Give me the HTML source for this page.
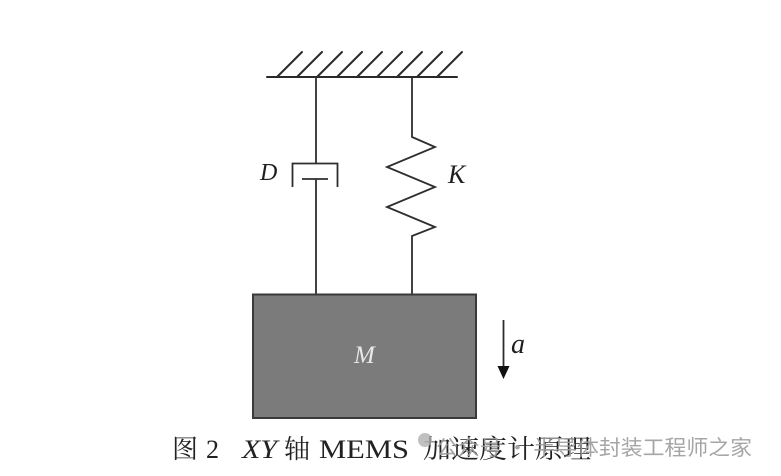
<!DOCTYPE html>
<html>
<head>
<meta charset="utf-8">
<style>
  html, body { margin: 0; padding: 0; background: #fff; }
  body { width: 781px; height: 476px; overflow: hidden; }
  svg { display: block; }
</style>
</head>
<body>
<svg width="781" height="476" viewBox="0 0 781 476" xmlns="http://www.w3.org/2000/svg">
  <rect x="0" y="0" width="781" height="476" fill="#ffffff"/>

  <!-- ground with hatching -->
  <g stroke="#2a2a2a" stroke-width="2" fill="none" stroke-linecap="round">
    <line x1="267" y1="77" x2="457" y2="77"/>
    <line x1="277" y1="77" x2="302" y2="52"/>
    <line x1="297" y1="77" x2="322" y2="52"/>
    <line x1="317" y1="77" x2="342" y2="52"/>
    <line x1="337" y1="77" x2="362" y2="52"/>
    <line x1="357" y1="77" x2="382" y2="52"/>
    <line x1="377" y1="77" x2="402" y2="52"/>
    <line x1="397" y1="77" x2="422" y2="52"/>
    <line x1="417" y1="77" x2="442" y2="52"/>
    <line x1="437" y1="77" x2="462" y2="52"/>
  </g>

  <!-- damper branch -->
  <g stroke="#2e2e2e" stroke-width="1.8" fill="none">
    <line x1="316" y1="77" x2="316" y2="163.5"/>
    <polyline points="292.5,187 292.5,163.5 337.5,163.5 337.5,187"/>
    <line x1="302" y1="179" x2="328" y2="179"/>
    <line x1="316" y1="179" x2="316" y2="294"/>
  </g>

  <!-- spring branch -->
  <g stroke="#2e2e2e" stroke-width="1.8" fill="none" stroke-linejoin="miter">
    <polyline points="412,77 412,137 435,147 387,167 435,187 387,207 435,227 412,236 412,294"/>
  </g>

  <!-- labels D, K -->
  <text x="260" y="180" font-family="Liberation Serif, serif" font-style="italic" font-size="24" fill="#1e1e1e">D</text>
  <text x="448" y="183" font-family="Liberation Serif, serif" font-style="italic" font-size="26" fill="#1e1e1e">K</text>

  <!-- mass -->
  <rect x="253" y="294.5" width="223" height="123.5" fill="#7b7b7b" stroke="#3a3a3a" stroke-width="2"/>
  <text x="354" y="363" font-family="Liberation Serif, serif" font-style="italic" font-size="25" fill="#e8e8e8">M</text>

  <!-- acceleration arrow -->
  <line x1="503.5" y1="320" x2="503.5" y2="368" stroke="#2e2e2e" stroke-width="1.8"/>
  <polygon points="497.5,366 509.5,366 503.5,379" fill="#111"/>
  <text x="511" y="353" font-family="Liberation Serif, serif" font-style="italic" font-size="28" fill="#1e1e1e">a</text>

  <!-- caption -->
  <g font-family="Liberation Serif, 'Noto Serif CJK SC', serif" font-size="26" fill="#222">
    <text x="172" y="458">图</text>
    <text x="206" y="458">2</text>
    <text x="242" y="458" font-style="italic" textLength="35" lengthAdjust="spacingAndGlyphs">XY</text>
    <text x="284" y="458">轴</text>
    <text x="319" y="458" textLength="90" lengthAdjust="spacingAndGlyphs">MEMS</text>
    <text x="423" y="458" textLength="168" lengthAdjust="spacingAndGlyphs">加速度计原理</text>
  </g>

  <!-- watermark -->
  <circle cx="425" cy="440" r="7" fill="#b0b0b0" opacity="0.8"/>
  <text x="436" y="455" font-family="'Noto Sans CJK SC', 'WenQuanYi Zen Hei', sans-serif" font-size="21" fill="#9c9c9c" opacity="0.9" textLength="316" lengthAdjust="spacingAndGlyphs">公众号 · 半导体封装工程师之家</text>
</svg>
</body>
</html>
